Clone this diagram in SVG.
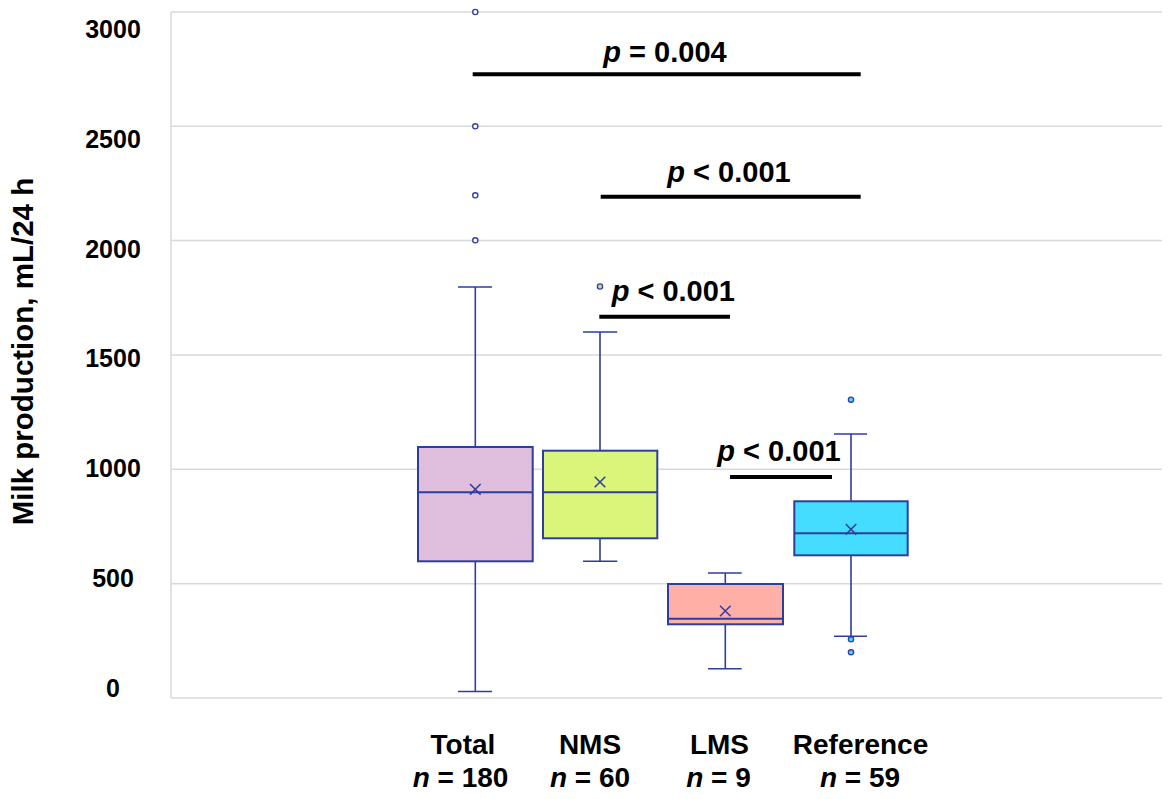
<svg xmlns="http://www.w3.org/2000/svg" width="1171" height="799" viewBox="0 0 1171 799">
<style>
text{font-family:"Liberation Sans",Arial,sans-serif;font-weight:bold;fill:#000}
.tick{font-size:25px;text-anchor:middle}
.cat{font-size:28px;text-anchor:middle}
.pl{font-size:29px;text-anchor:middle}
.it{font-style:italic}
.grid{stroke:#D9D9D9;stroke-width:1.5;fill:none}
.box{stroke:#2E3E9C;stroke-width:2}
.wh{stroke:#2E3E9C;stroke-width:1.6;fill:none}
.mean{stroke:#2E3E9C;stroke-width:1.5;fill:none}
.bar{stroke:#000;stroke-width:4}
.out{stroke:#3A3FA8;stroke-width:1.4}
</style>
<rect width="1171" height="799" fill="#fff"/>
<g id="axes">
<path class="grid" d="M171 12H1162M171 126.3H1162M171 240.6H1162M171 355H1162M171 469.3H1162M171 583.7H1162M171 698H1162M171 12V698"/>
<text class="tick" x="113" y="38.3">3000</text>
<text class="tick" x="113" y="148">2500</text>
<text class="tick" x="113" y="257.7">2000</text>
<text class="tick" x="113" y="367.4">1500</text>
<text class="tick" x="113" y="477.1">1000</text>
<text class="tick" x="113" y="586.8">500</text>
<text class="tick" x="113" y="696.5">0</text>
<text x="0" y="0" font-size="29.5" text-anchor="middle" transform="translate(32.5 351.5) rotate(-90)">Milk production, mL/24 h</text>
</g>
<g id="total">
<path class="wh" d="M475.3 447V287M458 287H492M475.3 561V691.5M458 691.5H492"/>
<rect class="box" x="418" y="447" width="114.7" height="114.3" fill="#E0BEDD"/>
<path class="box" d="M418 492.3H532.7" fill="none"/>
<path class="mean" d="M470 484L480.6 494.6M480.6 484L470 494.6"/>
<circle class="out" cx="475.3" cy="12" r="2.6" fill="#fff"/>
<circle class="out" cx="475.3" cy="126.3" r="2.6" fill="#fff"/>
<circle class="out" cx="475.3" cy="195.3" r="2.6" fill="#fff"/>
<circle class="out" cx="475.3" cy="240.3" r="2.6" fill="#fff"/>
<text class="cat" x="463" y="754.3">Total</text>
<text class="cat" x="460.5" y="786.7"><tspan class="it">n</tspan> = 180</text>
</g>
<g id="nms">
<path class="wh" d="M600 450.7V332M583 332H617.3M600 538.3V561.3M583 561.3H617.3"/>
<rect class="box" x="543" y="450.7" width="114.3" height="87.6" fill="#DBF57A"/>
<path class="box" d="M543 492.3H657.3" fill="none"/>
<path class="mean" d="M594.7 476.7L605.3 487.3M605.3 476.7L594.7 487.3"/>
<circle class="out" cx="600" cy="286.5" r="2.6" fill="#C8E87A"/>
<text class="cat" x="590" y="754.3">NMS</text>
<text class="cat" x="590" y="786.7"><tspan class="it">n</tspan> = 60</text>
</g>
<g id="lms">
<path class="wh" d="M725.3 584V573M708 573H741.7M725.3 624.3V668.7M708 668.7H741.7"/>
<rect class="box" x="668" y="584" width="115" height="40.3" fill="#FFB0A6"/>
<path class="box" d="M668 618.7H783" fill="none"/>
<path class="mean" d="M720 605.7L730.6 616.3M730.6 605.7L720 616.3"/>
<text class="cat" x="719.5" y="754.3">LMS</text>
<text class="cat" x="718.5" y="786.7"><tspan class="it">n</tspan> = 9</text>
</g>
<g id="reference">
<path class="wh" d="M851 501.3V434M834 434H867M851 555.3V636.3M834 636.3H867"/>
<rect class="box" x="794.3" y="501.3" width="113.4" height="54" fill="#45DDFF"/>
<path class="box" d="M794.3 533.3H907.7" fill="none"/>
<path class="mean" d="M845.7 524L856.3 534.6M856.3 524L845.7 534.6"/>
<circle class="out" cx="851" cy="399.7" r="2.6" fill="#45DDFF"/>
<circle class="out" cx="851" cy="639.3" r="2.6" fill="#45DDFF"/>
<circle class="out" cx="851" cy="652.3" r="2.6" fill="#45DDFF"/>
<text class="cat" x="860.5" y="754.3">Reference</text>
<text class="cat" x="860" y="786.7"><tspan class="it">n</tspan> = 59</text>
</g>
<g id="connectors">
<path class="bar" d="M472.7 74.3H860.7"/>
<text class="pl" x="665" y="61.7"><tspan class="it">p</tspan> = 0.004</text>
<path class="bar" d="M600.7 196.7H860.7"/>
<text class="pl" x="729" y="181.7"><tspan class="it">p</tspan> &lt; 0.001</text>
<path class="bar" d="M599.3 316.7H730"/>
<text class="pl" x="673.3" y="300.7"><tspan class="it">p</tspan> &lt; 0.001</text>
<path class="bar" d="M730 477H832"/>
<text class="pl" x="779" y="461"><tspan class="it">p</tspan> &lt; 0.001</text>
</g>
</svg>
